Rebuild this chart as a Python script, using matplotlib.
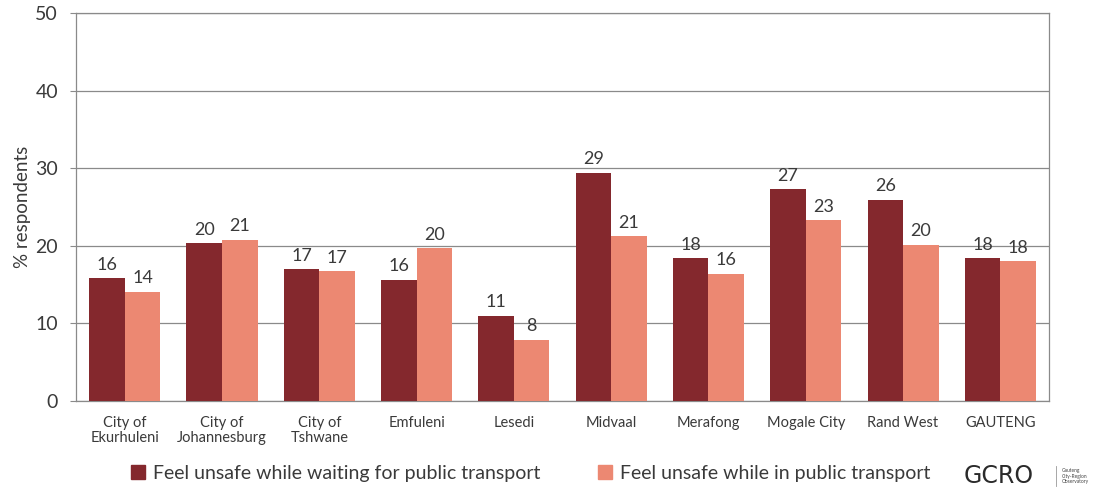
import numpy as np
import matplotlib.pyplot as plt
from matplotlib.patches import Patch

plt.rcParams['font.family'] = ['Lato', 'DejaVu Sans']

# データ
categories = ['City of\nEkurhuleni', 'City of\nJohannesburg', 'City of\nTshwane',
              'Emfuleni', 'Lesedi', 'Midvaal', 'Merafong', 'Mogale City',
              'Rand West', 'GAUTENG']
waiting = [15.8, 20.3, 17.0, 15.6, 11.0, 29.4, 18.4, 27.3, 25.9, 18.4]
in_transport = [14.1, 20.8, 16.7, 19.7, 7.9, 21.2, 16.4, 23.3, 20.1, 18.0]
series_names = ['Feel unsafe while waiting for public transport',
                'Feel unsafe while in public transport']

dark = '#84282d'
light = '#ec8872'
text_color = '#3a3a3a'
grid_color = '#8a8a8a'


def main():
    fig = plt.figure(figsize=(10.99, 4.91), dpi=100)
    ax = fig.add_axes([0.0692, 0.1833, 0.8853, 0.7902])

    x = np.arange(len(categories))
    w = 0.365
    b1 = ax.bar(x - w/2, waiting, w, color=dark, zorder=3)
    b2 = ax.bar(x + w/2, in_transport, w, color=light, zorder=3)

    # 棒の上の数値
    for bars in (b1, b2):
        for rect in bars:
            h = rect.get_height()
            ax.annotate('{:.0f}'.format(h), (rect.get_x() + rect.get_width()/2, h),
                        xytext=(0, 4), textcoords='offset points',
                        ha='center', va='bottom', fontsize=13, color=text_color)

    ax.set_xlim(-0.5, len(categories) - 0.5)
    ax.set_ylim(0, 50)
    ax.set_yticks(range(0, 51, 10))
    ax.yaxis.grid(True, color=grid_color, linewidth=0.9, zorder=0)
    ax.set_axisbelow(True)
    for s in ax.spines.values():
        s.set_color(grid_color)
        s.set_linewidth(0.9)

    ax.set_xticks(x)
    ax.set_xticklabels(categories, fontsize=10.5, color=text_color, linespacing=1.1)
    ax.tick_params(axis='x', length=0, pad=11)
    ax.tick_params(axis='y', length=4, color=grid_color, labelsize=14,
                   labelcolor=text_color, pad=9)
    ax.set_ylabel('% respondents', fontsize=13.5, color=text_color, labelpad=3)

    handles = [Patch(color=dark), Patch(color=light)]
    fig.legend(handles, series_names, loc='center', bbox_to_anchor=(0.483, 0.036),
               ncol=2, frameon=False, fontsize=14, handlelength=0.7,
               handleheight=0.7, handletextpad=0.4, columnspacing=3.0,
               labelcolor=text_color)

    # ロゴ
    fig.text(0.877, 0.030, 'GCRO', fontsize=17, color='#2a2a2a',
             ha='left', va='center', family='DejaVu Sans')
    fig.text(0.966, 0.030, 'Gauteng\nCity-Region\nObservatory', fontsize=3.5,
             color='#444444', ha='left', va='center', linespacing=1.1)
    fig.add_artist(plt.Line2D([0.961, 0.961], [0.010, 0.050], color='#999999',
                              linewidth=0.6))

    fig.savefig('out.png', dpi=100)


if __name__ == '__main__':
    main()
